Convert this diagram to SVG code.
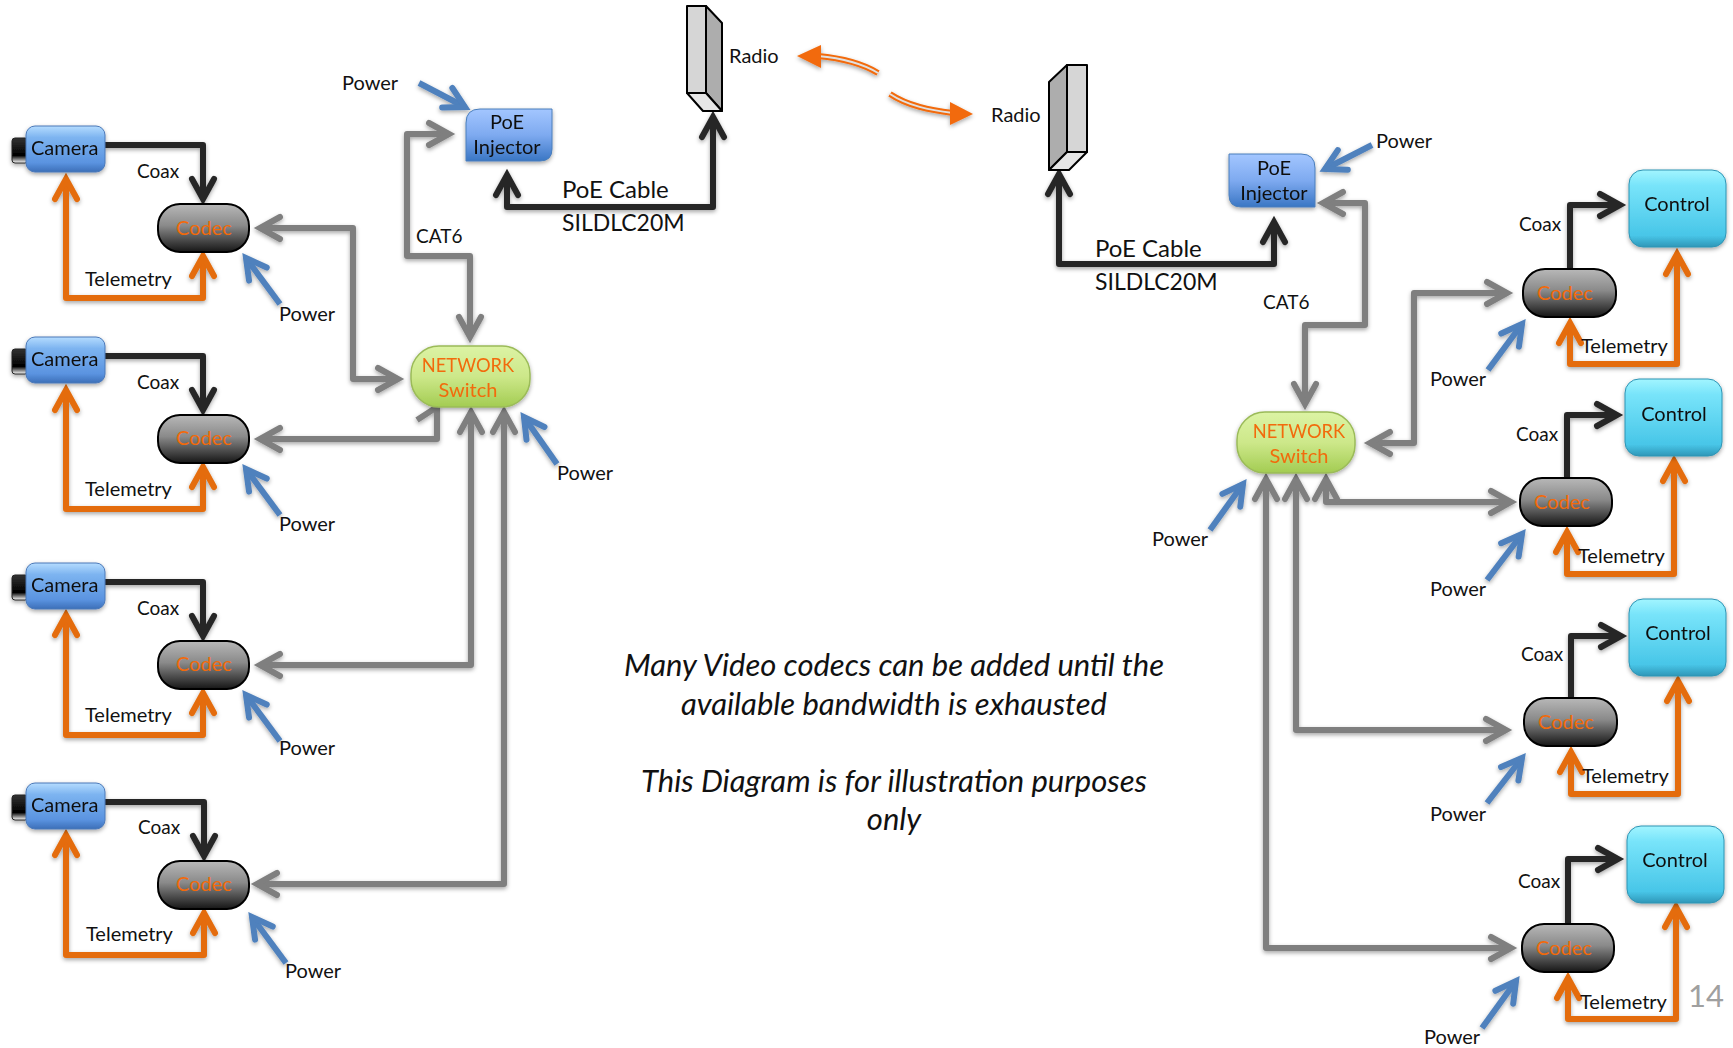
<svg xmlns="http://www.w3.org/2000/svg" width="1733" height="1048" viewBox="0 0 1733 1048">
<style>
text{font-family:"Lato","Carlito","Liberation Sans",sans-serif;font-size:20px;fill:#111}
.ctr{text-anchor:middle}
.or{fill:#f26a0a}
.net{font-size:18.3px}
.sm{font-size:19px}
.cable{font-size:24px}
.sil{font-size:23px}
.note{font-size:31px;font-style:italic;text-anchor:middle}
.num{font-size:31px;fill:#a0a0a0}
.cn{fill:none;stroke-width:6;stroke-linejoin:round}
.gray{stroke:#7f7f7f;marker-start:url(#mg);marker-end:url(#mg)}
.black{stroke:#262626;marker-end:url(#mk)}
.orange{stroke:#e46c0a;marker-start:url(#mo);marker-end:url(#mo)}
.blue{stroke:#4f81bd;marker-end:url(#mb)}
.cam{fill:url(#gCam);stroke:#4a78b8;stroke-width:1}
.lens{fill:url(#gLens);stroke:#222;stroke-width:1}
.codec{fill:url(#gCodec);stroke:#000;stroke-width:2}
.sw{fill:url(#gSw);stroke:#9bbb59;stroke-width:1.5}
.inj{fill:url(#gInj);stroke:#4a7ebb;stroke-width:1}
.ctl{fill:url(#gCtl);stroke:#2f94b4;stroke-width:1}
.f1{fill:#d6d6d6;stroke:#000;stroke-width:2;stroke-linejoin:round}
.f2{fill:#adadad;stroke:#000;stroke-width:2;stroke-linejoin:round}
.f3{fill:#e6e6e6;stroke:#000;stroke-width:2;stroke-linejoin:round}
.waveo{fill:none;stroke:#f26a0a;stroke-width:6}
.wavei{fill:none;stroke:#e0e0e0;stroke-width:2}
.head{fill:#f26a0a}
</style>
<defs>
<linearGradient id="gCam" x1="0" y1="0" x2="0" y2="1"><stop offset="0" stop-color="#b5dcff"/><stop offset=".25" stop-color="#7db4f0"/><stop offset=".8" stop-color="#5a93e0"/><stop offset="1" stop-color="#3c6fb8"/></linearGradient>
<linearGradient id="gLens" x1="0" y1="0" x2="0" y2="1"><stop offset="0" stop-color="#333"/><stop offset=".7" stop-color="#000"/><stop offset="1" stop-color="#fff"/></linearGradient>
<linearGradient id="gCodec" x1="0" y1="0" x2="0" y2="1"><stop offset="0" stop-color="#b8b8b8"/><stop offset=".45" stop-color="#8a8a8a"/><stop offset="1" stop-color="#161616"/></linearGradient>
<linearGradient id="gSw" x1="0" y1="0" x2="0" y2="1"><stop offset="0" stop-color="#dcf3a4"/><stop offset=".5" stop-color="#cde88a"/><stop offset="1" stop-color="#a3cc52"/></linearGradient>
<linearGradient id="gInj" x1="0" y1="0" x2="0" y2="1"><stop offset="0" stop-color="#a3c6ff"/><stop offset=".5" stop-color="#7eaaf0"/><stop offset="1" stop-color="#3a76c4"/></linearGradient>
<linearGradient id="gCtl" x1="0" y1="0" x2="0" y2="1"><stop offset="0" stop-color="#a2f5ff"/><stop offset=".2" stop-color="#78e4fa"/><stop offset=".85" stop-color="#48c6e8"/><stop offset="1" stop-color="#2f97b8"/></linearGradient>
<filter id="sh" x="-10%" y="-10%" width="120%" height="125%"><feDropShadow dx="0" dy="2" stdDeviation="2" flood-color="#000" flood-opacity=".35"/></filter>
<marker id="mg" markerUnits="userSpaceOnUse" markerWidth="40" markerHeight="40" viewBox="-30 -20 40 40" refX="0" refY="0" orient="auto-start-reverse"><path d="M-20,-11L0,0L-20,11" fill="none" stroke="#7f7f7f" stroke-width="6" stroke-linecap="round"/></marker>
<marker id="mk" markerUnits="userSpaceOnUse" markerWidth="40" markerHeight="40" viewBox="-30 -20 40 40" refX="0" refY="0" orient="auto-start-reverse"><path d="M-20,-11L0,0L-20,11" fill="none" stroke="#262626" stroke-width="6" stroke-linecap="round"/></marker>
<marker id="mo" markerUnits="userSpaceOnUse" markerWidth="40" markerHeight="40" viewBox="-30 -20 40 40" refX="0" refY="0" orient="auto-start-reverse"><path d="M-20,-11L0,0L-20,11" fill="none" stroke="#e46c0a" stroke-width="6" stroke-linecap="round"/></marker>
<marker id="mb" markerUnits="userSpaceOnUse" markerWidth="40" markerHeight="40" viewBox="-30 -20 40 40" refX="0" refY="0" orient="auto-start-reverse"><path d="M-20,-11L0,0L-20,11" fill="none" stroke="#4f81bd" stroke-width="6" stroke-linecap="round"/></marker>
</defs>

<g id="connectors" filter="url(#sh)">
<path class="cn black" d="M105,145H203V199"/><path class="cn orange" d="M66,179V298H203V256"/><path class="cn blue" d="M280,304L246,258"/>
<path class="cn black" d="M105,356H203V410"/><path class="cn orange" d="M66,390V509H203V467"/><path class="cn blue" d="M280,515L246,469"/>
<path class="cn black" d="M105,582H203V636"/><path class="cn orange" d="M66,615V735H203V693"/><path class="cn blue" d="M280,741L246,695"/>
<path class="cn black" d="M105,802H204V856"/><path class="cn orange" d="M66,835V955H204V913"/><path class="cn blue" d="M286,963L252,917"/>
<path class="cn gray" d="M260,228H353V379H398"/>
<path class="cn" stroke="#7f7f7f" marker-start="url(#mg)" d="M260,439H437V407L417,420"/>
<path class="cn gray" d="M260,665H471V412"/>
<path class="cn gray" d="M257,884H504V412"/>
<path class="cn gray" d="M470,337V256H407V134H449"/>
<path class="cn blue" d="M557,464L524,417"/>
<path class="cn blue" d="M419,83L465,107"/>
<path class="cn black" style="marker-start:url(#mk)" d="M713,117V207H507V175"/>
<path class="cn black" style="marker-start:url(#mk)" d="M1059,174V264H1274V222"/>
<path class="cn gray" d="M1323,203H1365V325H1305V404"/>
<path class="cn blue" d="M1372,145L1325,169"/>
<path class="cn blue" d="M1210,530L1243,484"/>
<path class="cn gray" d="M1507,293H1414V443H1370"/>
<path class="cn gray" d="M1511,502H1326V479"/>
<path class="cn gray" d="M1506,730H1296V479"/>
<path class="cn gray" d="M1511,948H1266V479"/>
<path class="cn black" d="M1570,269V205H1620"/><path class="cn orange" d="M1570,323V364H1677V254"/><path class="cn blue" d="M1488,370L1522,324"/>
<path class="cn black" d="M1567,478V415H1617"/><path class="cn orange" d="M1567,532V574H1674V461"/><path class="cn blue" d="M1487,580L1522,534"/>
<path class="cn black" d="M1571,698V636H1621"/><path class="cn orange" d="M1571,752V794H1678V681"/><path class="cn blue" d="M1487,803L1522,758"/>
<path class="cn black" d="M1568,924V859H1618"/><path class="cn orange" d="M1568,978V1019H1676V907"/><path class="cn blue" d="M1482,1028L1516,981"/>
</g>

<g id="wireless" filter="url(#sh)">
<path class="waveo" d="M878,73C860,62 840,58 818,56"/><path class="wavei" d="M878,73C860,62 840,58 818,56"/><polygon class="head" points="797,56 821,45 821,68"/>
<path class="waveo" d="M890,94C908,106 930,110 953,113"/><path class="wavei" d="M890,94C908,106 930,110 953,113"/><polygon class="head" points="973,114 950,102 950,125"/>
</g>

<g id="camera1" filter="url(#sh)"><rect class="lens" x="12" y="138" width="16" height="25" rx="3"/><rect class="cam" x="26" y="126" width="79" height="46" rx="9"/><text x="31" y="155">Camera</text></g>
<g id="camera2" filter="url(#sh)"><rect class="lens" x="12" y="349" width="16" height="25" rx="3"/><rect class="cam" x="26" y="337" width="79" height="46" rx="9"/><text x="31" y="366">Camera</text></g>
<g id="camera3" filter="url(#sh)"><rect class="lens" x="12" y="575" width="16" height="25" rx="3"/><rect class="cam" x="26" y="563" width="79" height="46" rx="9"/><text x="31" y="592">Camera</text></g>
<g id="camera4" filter="url(#sh)"><rect class="lens" x="12" y="795" width="16" height="25" rx="3"/><rect class="cam" x="26" y="783" width="79" height="46" rx="9"/><text x="31" y="812">Camera</text></g>

<g id="codec1"><rect class="codec" x="158" y="204" width="91" height="48" rx="22"/><text class="or ctr" x="204" y="235">Codec</text></g>
<g id="codec2"><rect class="codec" x="158" y="415" width="91" height="48" rx="22"/><text class="or ctr" x="204" y="445">Codec</text></g>
<g id="codec3"><rect class="codec" x="158" y="641" width="91" height="48" rx="22"/><text class="or ctr" x="204" y="671">Codec</text></g>
<g id="codec4"><rect class="codec" x="158" y="861" width="91" height="48" rx="22"/><text class="or ctr" x="204" y="891">Codec</text></g>

<g id="switch1" filter="url(#sh)"><rect class="sw" x="411" y="346" width="119" height="61" rx="28"/><text class="or ctr net" x="468" y="372">NETWORK</text><text class="or ctr" x="468" y="397">Switch</text></g>
<g id="injector1" filter="url(#sh)"><path class="inj" d="M480,109H552V149Q552,161 540,161H466V123Q466,109 480,109Z"/><text class="ctr" x="507" y="129">PoE</text><text class="ctr" x="507" y="154">Injector</text></g>
<g id="radio1"><polygon class="f2" points="706,6 722,23 722,111 706,93"/><polygon class="f1" points="687,6 706,6 706,93 687,93"/><polygon class="f3" points="687,93 706,93 722,111 703,111"/><text x="729" y="63">Radio</text></g>
<g id="radio2"><polygon class="f2" points="1067,65 1049,82 1049,170 1067,152"/><polygon class="f1" points="1067,65 1087,65 1087,152 1067,152"/><polygon class="f3" points="1067,152 1087,152 1069,170 1049,170"/><text x="991" y="122">Radio</text></g>
<g id="injector2" filter="url(#sh)"><path class="inj" d="M1229,154H1301Q1315,154 1315,168V207H1241Q1229,207 1229,195Z"/><text class="ctr" x="1274" y="175">PoE</text><text class="ctr" x="1274" y="200">Injector</text></g>
<g id="switch2" filter="url(#sh)"><rect class="sw" x="1237" y="412" width="118" height="61" rx="28"/><text class="or ctr net" x="1299" y="438">NETWORK</text><text class="or ctr" x="1299" y="463">Switch</text></g>

<g id="codec5"><rect class="codec" x="1523" y="269" width="93" height="48" rx="22"/><text class="or ctr" x="1565" y="300">Codec</text></g>
<g id="codec6"><rect class="codec" x="1520" y="478" width="92" height="48" rx="22"/><text class="or ctr" x="1562" y="509">Codec</text></g>
<g id="codec7"><rect class="codec" x="1524" y="698" width="93" height="48" rx="22"/><text class="or ctr" x="1566" y="729">Codec</text></g>
<g id="codec8"><rect class="codec" x="1522" y="924" width="92" height="48" rx="22"/><text class="or ctr" x="1564" y="955">Codec</text></g>

<g id="control1" filter="url(#sh)"><rect class="ctl" x="1629" y="170" width="97" height="77" rx="14"/><text class="ctr" x="1677" y="211">Control</text></g>
<g id="control2" filter="url(#sh)"><rect class="ctl" x="1625" y="379" width="97" height="77" rx="14"/><text class="ctr" x="1674" y="421">Control</text></g>
<g id="control3" filter="url(#sh)"><rect class="ctl" x="1629" y="599" width="97" height="77" rx="14"/><text class="ctr" x="1678" y="640">Control</text></g>
<g id="control4" filter="url(#sh)"><rect class="ctl" x="1627" y="826" width="97" height="77" rx="14"/><text class="ctr" x="1675" y="867">Control</text></g>

<g id="labels">
<text class="sm" x="137" y="178">Coax</text><text x="85" y="286">Telemetry</text><text x="279" y="321">Power</text>
<text class="sm" x="137" y="389">Coax</text><text x="85" y="496">Telemetry</text><text x="279" y="531">Power</text>
<text class="sm" x="137" y="615">Coax</text><text x="85" y="722">Telemetry</text><text x="279" y="755">Power</text>
<text class="sm" x="138" y="834">Coax</text><text x="86" y="941">Telemetry</text><text x="285" y="978">Power</text>
<text x="342" y="90">Power</text><text class="sm" x="416" y="243">CAT6</text><text x="557" y="480">Power</text>
<text class="cable" x="562" y="198">PoE Cable</text><text class="sil" x="562" y="231">SILDLC20M</text>
<text class="cable" x="1095" y="257">PoE Cable</text><text class="sil" x="1095" y="290">SILDLC20M</text>
<text class="sm" x="1263" y="309">CAT6</text><text x="1376" y="148">Power</text><text x="1152" y="546">Power</text>
<text class="sm" x="1519" y="231">Coax</text><text class="sm" x="1516" y="441">Coax</text><text class="sm" x="1521" y="661">Coax</text><text class="sm" x="1518" y="888">Coax</text>
<text x="1581" y="353">Telemetry</text><text x="1578" y="563">Telemetry</text><text x="1582" y="783">Telemetry</text><text x="1580" y="1009">Telemetry</text>
<text x="1430" y="386">Power</text><text x="1430" y="596">Power</text><text x="1430" y="821">Power</text><text x="1424" y="1044">Power</text>
<text class="note" x="894" y="676">Many Video codecs can be added until the</text>
<text class="note" x="894" y="715">available bandwidth is exhausted</text>
<text class="note" x="894" y="792">This Diagram is for illustration purposes</text>
<text class="note" x="894" y="830">only</text>
<text class="num" x="1688" y="1007">14</text>
</g>
</svg>
